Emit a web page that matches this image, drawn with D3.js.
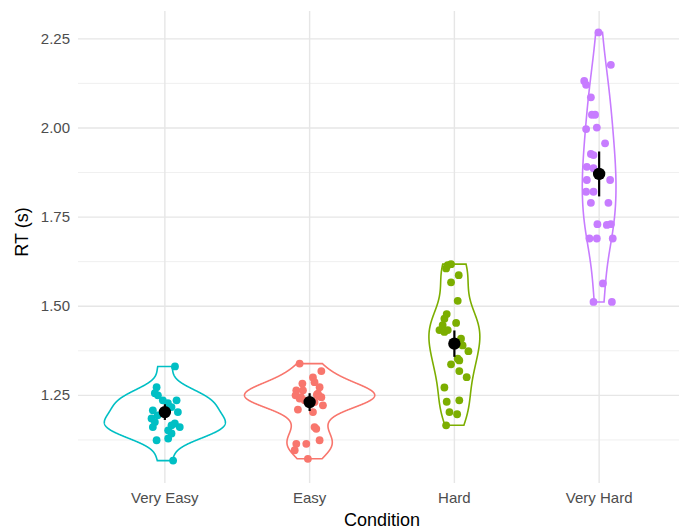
<!DOCTYPE html>
<html>
<head>
<meta charset="utf-8">
<script src="https://cdn.jsdelivr.net/npm/d3@7"></script>
<style>
  body { margin: 0; background: #fff; }
  text { font-family: "Liberation Sans", Arial, sans-serif; }
</style>
</head>
<body>
<div id="chart"></div>
<script>
// conditions, in the order they are shown
var conditions = ["Very Easy", "Easy", "Hard", "Very Hard"];
var colors = ["#00BFC4", "#F8766D", "#7CAE00", "#C77CFF"];

// reaction times per participant (s) (dense clusters estimated)
var veryEasyRT = [1.331, 1.273, 1.256, 1.250, 1.236, 1.228, 1.236, 1.203, 1.217, 1.208, 1.185,
    1.175, 1.161, 1.166, 1.171, 1.161, 1.152, 1.143, 1.129, 1.124, 1.067, 1.194];
var easyRT = [1.339, 1.318, 1.300, 1.283, 1.287, 1.273, 1.264, 1.264, 1.255, 1.245, 1.241, 1.231,
    1.222, 1.210, 1.203, 1.236, 1.250, 1.161, 1.156, 1.124, 1.114, 1.114, 1.096, 1.072,
    1.245, 1.252, 1.248];
var hardRT = [1.615, 1.618, 1.606, 1.587, 1.567, 1.515, 1.478, 1.465, 1.453, 1.447, 1.433, 1.428,
    1.433, 1.409, 1.390, 1.374, 1.353, 1.348, 1.337, 1.318, 1.301, 1.272, 1.232, 1.236, 1.203,
    1.197, 1.166];
var veryHardRT = [2.268, 2.177, 2.132, 2.121, 2.086, 2.037, 2.037, 1.997, 2.001, 1.957, 1.927,
    1.924, 1.891, 1.887, 1.854, 1.854, 1.821, 1.821, 1.790, 1.790, 1.730, 1.728, 1.730, 1.690,
    1.690, 1.690, 1.564, 1.512, 1.512];

// horizontal jitter of each point (fraction of the category step)
var veryEasyJitter = [0.07, -0.057, -0.069, -0.048, -0.014, 0.021, 0.081, 0.09, 0.046, -0.083, -0.092,
    -0.069, -0.083, 0.046, 0.069, 0.103, 0.023, 0.046, 0.023, -0.057, 0.057, -0.05];
var easyJitter = [-0.069, 0.081, 0.023, -0.05, 0.034, 0.069, -0.092, -0.046, 0.057, 0.081, -0.069, 0.034,
    0.092, -0.081, 0.023, -0.034, -0.097, 0.034, 0.046, 0.069, -0.092, -0.023, -0.103, -0.012,
    -0.06, 0.05, 0.065];
var hardJitter = [-0.046, -0.023, -0.057, 0.03, -0.023, 0.023, -0.053, -0.069, 0.012, -0.081, -0.103, -0.069,
    -0.046, 0.046, 0.057, 0.097, 0.023, 0.034, -0.023, 0.034, 0.085, -0.069, -0.053, 0.034, -0.034,
    0.019, -0.057];
var veryHardJitter = [-0.005, 0.081, -0.103, -0.09, -0.057, -0.05, -0.028, -0.09, -0.016, 0.041, -0.057,
    -0.039, -0.085, -0.039, -0.085, 0.076, -0.09, -0.039, -0.057, 0.064, -0.012, 0.053, 0.081, -0.067,
    -0.016, 0.094, 0.026, -0.039, 0.088];

// group means and 95% confidence half widths
var means = [1.203, 1.231, 1.395, 1.871];
var ciHalf = [0.022, 0.025, 0.037, 0.063];

var yTicks = [1.25, 1.50, 1.75, 2.00, 2.25];
var yMinor = [1.125, 1.375, 1.625, 1.875, 2.125];

var groups = [veryEasyRT, easyRT, hardRT, veryHardRT];
var jitters = [veryEasyJitter, easyJitter, hardJitter, veryHardJitter];

var width = 679, height = 530;
var svg = d3.select("#chart").append("svg").attr("width", width).attr("height", height);

// scales
var xScale = d3.scalePoint().domain(conditions).range([78, 686]).padding(0.6);
var step = xScale.step();

var all = d3.merge(groups);
var ext = d3.extent(all);
var pad = (ext[1] - ext[0]) * 0.05;
var yScale = d3.scaleLinear().domain([ext[0] - pad, ext[1] + pad]).range([482, 11]);

// grid lines
svg.selectAll(".minor").data(yMinor).enter().append("line")
    .attr("x1", 78).attr("x2", width)
    .attr("y1", function(d) { return yScale(d); }).attr("y2", function(d) { return yScale(d); })
    .attr("stroke", "#ebebeb").attr("stroke-width", 0.8);
svg.selectAll(".major").data(yTicks).enter().append("line")
    .attr("x1", 78).attr("x2", width)
    .attr("y1", function(d) { return yScale(d); }).attr("y2", function(d) { return yScale(d); })
    .attr("stroke", "#e6e6e6").attr("stroke-width", 1.4);
svg.selectAll(".vgrid").data(conditions).enter().append("line")
    .attr("x1", function(d) { return xScale(d); }).attr("x2", function(d) { return xScale(d); })
    .attr("y1", 11).attr("y2", 483)
    .attr("stroke", "#e6e6e6").attr("stroke-width", 1.4);

// y axis labels
svg.selectAll(".ylab").data(yTicks).enter().append("text")
    .attr("x", 70).attr("y", function(d) { return yScale(d) + 5; })
    .attr("text-anchor", "end").attr("font-size", 15).attr("fill", "#4d4d4d")
    .text(function(d) { return d.toFixed(2); });

// x axis labels
svg.selectAll(".xlab").data(conditions).enter().append("text")
    .attr("x", function(d) { return xScale(d); }).attr("y", 503)
    .attr("text-anchor", "middle").attr("font-size", 15).attr("fill", "#4d4d4d")
    .text(function(d) { return d; });

// axis titles
svg.append("text")
    .attr("x", 382).attr("y", 526).attr("text-anchor", "middle")
    .attr("font-size", 18).attr("fill", "#000").text("Condition");
svg.append("text")
    .attr("transform", "translate(" + [28, 232] + ") rotate(-90)")
    .attr("text-anchor", "middle").attr("font-size", 18).attr("fill", "#000").text("RT (s)");

// kernel density like R's density() with bw.nrd0
function density(values) {
    var n = values.length;
    var sd = d3.deviation(values);
    var sorted = values.slice().sort(d3.ascending);
    var iqr = d3.quantileSorted(sorted, 0.75) - d3.quantileSorted(sorted, 0.25);
    var bw = 0.9 * Math.min(sd, iqr / 1.34) * Math.pow(n, -0.2);
    var lo = sorted[0], hi = sorted[n - 1];
    var pts = [];
    for (var i = 0; i < 512; i++) {
        var y = lo + (hi - lo) * i / 511;
        var s = 0;
        values.forEach(function(v) {
            var z = (y - v) / bw;
            s += Math.exp(-0.5 * z * z);
        });
        pts.push({ y: y, d: s / (n * bw * Math.sqrt(2 * Math.PI)) });
    }
    return pts;
}

var dens = groups.map(density);
var maxD = d3.max(dens, function(g) { return d3.max(g, function(p) { return p.d; }); });
var wScale = d3.scaleLinear().domain([0, maxD]).range([0, 0.45 * step]);

// violins
dens.forEach(function(g, i) {
    var cx = xScale(conditions[i]);
    var area = d3.area()
        .y(function(p) { return yScale(p.y); })
        .x0(function(p) { return cx - wScale(p.d); })
        .x1(function(p) { return cx + wScale(p.d); });
    svg.append("path")
        .datum(g)
        .attr("d", area)
        .attr("fill", "none")
        .attr("stroke", colors[i])
        .attr("stroke-width", 1.6);
});

// jittered points
groups.forEach(function(vals, i) {
    var cx = xScale(conditions[i]);
    svg.selectAll(".dot" + i)
        .data(vals).enter().append("circle")
        .attr("cx", function(d, j) { return cx + jitters[i][j] * step; })
        .attr("cy", function(d) { return yScale(d); })
        .attr("r", 3.9)
        .attr("fill", colors[i]);
});

// mean and confidence interval
conditions.forEach(function(c, i) {
    var cx = xScale(c);
    svg.append("line")
        .attr("x1", cx).attr("x2", cx)
        .attr("y1", yScale(means[i] - ciHalf[i])).attr("y2", yScale(means[i] + ciHalf[i]))
        .attr("stroke", "#000").attr("stroke-width", 2.2);
    svg.append("circle")
        .attr("cx", cx).attr("cy", yScale(means[i]))
        .attr("r", 6.2).attr("fill", "#000");
});
</script>
</body>
</html>
